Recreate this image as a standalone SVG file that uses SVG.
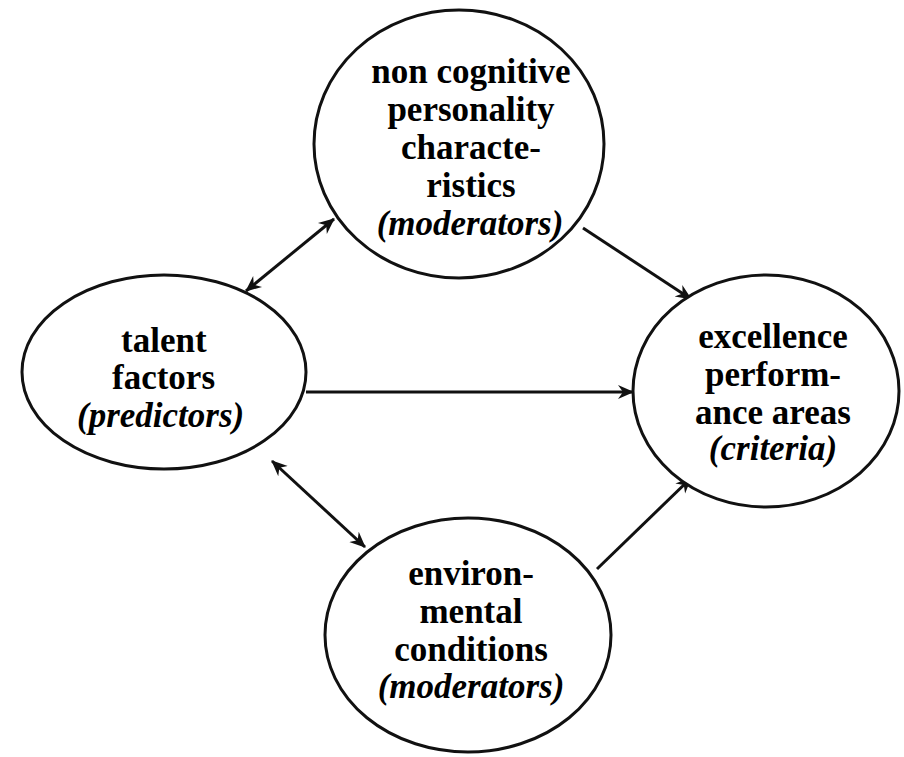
<svg xmlns="http://www.w3.org/2000/svg" width="904" height="757" viewBox="0 0 904 757">
<defs>
<marker id="ah" markerUnits="userSpaceOnUse" markerWidth="18" markerHeight="16" refX="15" refY="7" orient="auto-start-reverse" viewBox="0 0 18 14">
<path d="M0,0 L16,7 L0,14 L5,7 z" fill="#111"/>
</marker>
</defs>
<rect width="904" height="757" fill="#fff"/>
<g id="connectors" stroke="#111" stroke-width="3">
<line x1="246" y1="291" x2="334" y2="219" marker-start="url(#ah)" marker-end="url(#ah)"/>
<line x1="583" y1="228" x2="691" y2="299" marker-end="url(#ah)"/>
<line x1="306" y1="392" x2="633" y2="392" marker-end="url(#ah)"/>
<line x1="272" y1="461" x2="365" y2="547" marker-start="url(#ah)" marker-end="url(#ah)"/>
<line x1="597" y1="569" x2="691" y2="478" marker-end="url(#ah)"/>
</g>
<g id="node-top">
<ellipse cx="459" cy="144" rx="145" ry="134" fill="#fff" stroke="#111" stroke-width="3"/>
<text x="471" y="83" font-family="Liberation Serif" font-size="35" font-weight="bold" text-anchor="middle">non cognitive</text>
<text x="471" y="121" font-family="Liberation Serif" font-size="35" font-weight="bold" text-anchor="middle">personality</text>
<text x="471" y="159" font-family="Liberation Serif" font-size="35" font-weight="bold" text-anchor="middle">characte-</text>
<text x="471" y="197" font-family="Liberation Serif" font-size="35" font-weight="bold" text-anchor="middle">ristics</text>
<text x="470" y="235" font-family="Liberation Serif" font-size="35" font-weight="bold" font-style="italic" text-anchor="middle">(moderators)</text>
</g>
<g id="node-talent">
<ellipse cx="164" cy="372" rx="142" ry="97" fill="#fff" stroke="#111" stroke-width="3"/>
<text x="121" y="352" font-family="Liberation Serif" font-size="35" font-weight="bold">talent</text>
<text x="112" y="389" font-family="Liberation Serif" font-size="35" font-weight="bold">factors</text>
<text x="77" y="427" font-family="Liberation Serif" font-size="35" font-weight="bold" font-style="italic">(predictors)</text>
</g>
<g id="node-excellence">
<ellipse cx="766" cy="391" rx="133" ry="116" fill="#fff" stroke="#111" stroke-width="3"/>
<text x="773" y="348" font-family="Liberation Serif" font-size="35" font-weight="bold" text-anchor="middle">excellence</text>
<text x="773" y="386" font-family="Liberation Serif" font-size="35" font-weight="bold" text-anchor="middle">perform-</text>
<text x="773" y="424" font-family="Liberation Serif" font-size="35" font-weight="bold" text-anchor="middle">ance areas</text>
<text x="773" y="460" font-family="Liberation Serif" font-size="35" font-weight="bold" font-style="italic" text-anchor="middle">(criteria)</text>
</g>
<g id="node-env">
<ellipse cx="468" cy="635" rx="143" ry="117" fill="#fff" stroke="#111" stroke-width="3"/>
<text x="471" y="585" font-family="Liberation Serif" font-size="35" font-weight="bold" text-anchor="middle">environ-</text>
<text x="471" y="623" font-family="Liberation Serif" font-size="35" font-weight="bold" text-anchor="middle">mental</text>
<text x="471" y="661" font-family="Liberation Serif" font-size="35" font-weight="bold" text-anchor="middle">conditions</text>
<text x="471" y="698" font-family="Liberation Serif" font-size="35" font-weight="bold" font-style="italic" text-anchor="middle">(moderators)</text>
</g>
</svg>
